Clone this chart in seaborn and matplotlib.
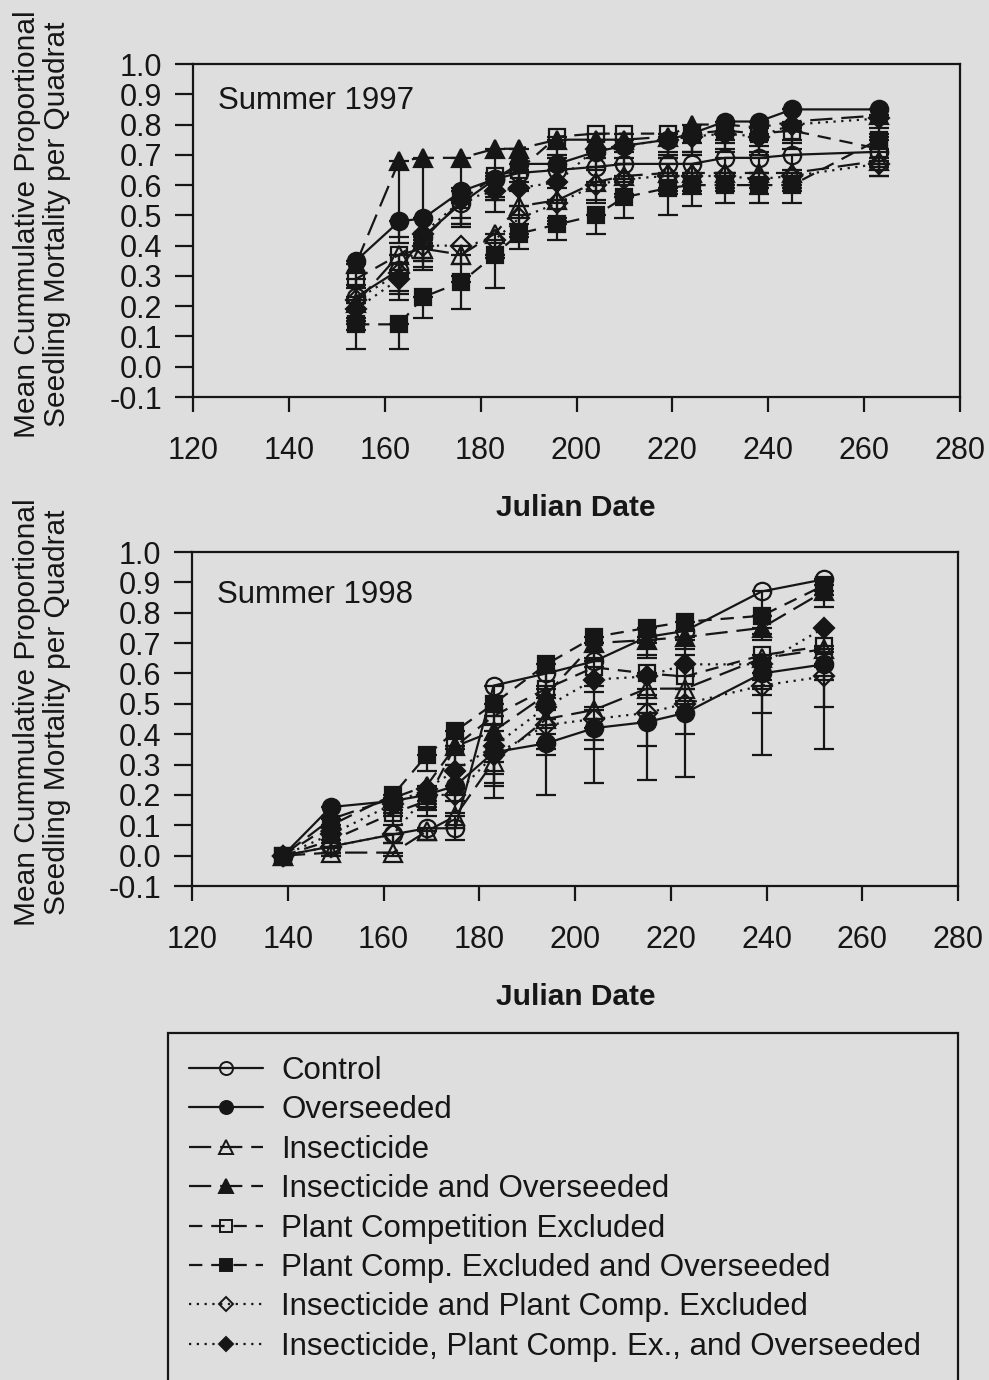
import numpy as np
import pandas as pd
import matplotlib
matplotlib.use("Agg")
import matplotlib.pyplot as plt
from matplotlib.lines import Line2D
from matplotlib.patches import Rectangle
import seaborn as sns

# ---------------- data ----------------
series_names = [
    "Control",
    "Overseeded",
    "Insecticide",
    "Insecticide and Overseeded",
    "Plant Competition Excluded",
    "Plant Comp. Excluded and Overseeded",
    "Insecticide and Plant Comp. Excluded",
    "Insecticide, Plant Comp. Ex., and Overseeded",
]

dates_1997 = [154, 163, 168, 176, 183, 188, 196, 204, 210, 219, 224, 231, 238, 245, 263]
control_1997 = [0.23, 0.32, 0.43, 0.54, 0.62, 0.64, 0.65, 0.66, 0.67, 0.67, 0.67, 0.69, 0.69, 0.70, 0.71]
overseeded_1997 = [0.35, 0.48, 0.49, 0.58, 0.62, 0.67, 0.67, 0.71, 0.73, 0.75, 0.77, 0.81, 0.81, 0.85, 0.85]
insecticide_1997 = [0.21, 0.37, 0.39, 0.37, 0.44, 0.53, 0.55, 0.61, 0.63, 0.64, 0.64, 0.64, 0.64, 0.64, 0.68]
ins_over_1997 = [0.34, 0.68, 0.69, 0.69, 0.72, 0.72, 0.75, 0.75, 0.75, 0.76, 0.80, 0.80, 0.79, 0.81, 0.83]
pce_1997 = [0.29, 0.37, 0.42, 0.55, 0.63, 0.65, 0.76, 0.77, 0.77, 0.77, 0.77, 0.78, 0.77, 0.78, 0.72]
pce_over_1997 = [0.14, 0.14, 0.23, 0.28, 0.37, 0.44, 0.47, 0.50, 0.56, 0.59, 0.60, 0.60, 0.60, 0.60, 0.75]
ins_pce_1997 = [0.22, 0.31, 0.40, 0.40, 0.42, 0.49, 0.54, 0.60, 0.62, 0.63, 0.63, 0.63, 0.62, 0.63, 0.67]
ins_pce_over_1997 = [0.19, 0.29, 0.44, 0.55, 0.58, 0.59, 0.61, 0.72, 0.73, 0.75, 0.76, 0.77, 0.76, 0.80, 0.82]

se_control_1997 = [0.07, 0.07, 0.08, 0.08, 0.07, 0.06, 0.06, 0.06, 0.06, 0.06, 0.06, 0.05, 0.05, 0.05, 0.05]
se_overseeded_1997 = [0.08, 0.07, 0.08, 0.09, 0.07, 0.06, 0.06, 0.06, 0.06, 0.06, 0.06, 0.06, 0.06, 0.06, 0.06]
se_insecticide_1997 = [0.07, 0.07, 0.07, 0.07, 0.07, 0.06, 0.06, 0.06, 0.06, 0.06, 0.06, 0.05, 0.05, 0.05, 0.05]
se_ins_over_1997 = [0.08, 0.25, 0.25, 0.10, 0.08, 0.07, 0.06, 0.06, 0.06, 0.06, 0.06, 0.06, 0.06, 0.06, 0.06]
se_pce_1997 = [0.08, 0.07, 0.07, 0.08, 0.07, 0.06, 0.06, 0.06, 0.06, 0.06, 0.06, 0.06, 0.06, 0.06, 0.06]
se_pce_over_1997 = [0.08, 0.08, 0.07, 0.09, 0.11, 0.05, 0.05, 0.06, 0.07, 0.09, 0.07, 0.06, 0.06, 0.06, 0.06]
se_ins_pce_1997 = [0.07, 0.07, 0.07, 0.06, 0.06, 0.06, 0.06, 0.06, 0.06, 0.06, 0.06, 0.05, 0.05, 0.05, 0.04]
se_ins_pce_over_1997 = [0.07, 0.07, 0.08, 0.08, 0.07, 0.06, 0.06, 0.06, 0.06, 0.06, 0.06, 0.06, 0.06, 0.06, 0.06]

dates_1998 = [139, 149, 162, 169, 175, 183, 194, 204, 215, 223, 239, 252]
control_1998 = [0.0, 0.03, 0.07, 0.09, 0.09, 0.56, 0.60, 0.64, 0.72, 0.74, 0.87, 0.91]
overseeded_1998 = [0.0, 0.16, 0.18, 0.20, 0.23, 0.34, 0.37, 0.42, 0.44, 0.47, 0.60, 0.63]
insecticide_1998 = [0.0, 0.01, 0.01, 0.08, 0.13, 0.31, 0.45, 0.48, 0.55, 0.55, 0.65, 0.68]
ins_over_1998 = [0.0, 0.12, 0.19, 0.23, 0.36, 0.41, 0.53, 0.70, 0.71, 0.72, 0.75, 0.87]
pce_1998 = [0.0, 0.05, 0.14, 0.18, 0.36, 0.46, 0.55, 0.62, 0.60, 0.59, 0.66, 0.69]
pce_over_1998 = [0.0, 0.10, 0.20, 0.33, 0.41, 0.50, 0.63, 0.72, 0.75, 0.77, 0.79, 0.89]
ins_pce_1998 = [0.0, 0.03, 0.07, 0.20, 0.20, 0.33, 0.43, 0.45, 0.47, 0.50, 0.56, 0.59]
ins_pce_over_1998 = [0.0, 0.07, 0.17, 0.22, 0.28, 0.36, 0.49, 0.58, 0.59, 0.63, 0.63, 0.75]

se_control_1998 = [0.0, 0.02, 0.03, 0.04, 0.04, 0.10, 0.08, 0.08, 0.06, 0.06, 0.08, 0.05]
se_overseeded_1998 = [0.0, 0.03, 0.04, 0.04, 0.05, 0.10, 0.17, 0.18, 0.19, 0.21, 0.13, 0.14]
se_insecticide_1998 = [0.0, 0.01, 0.01, 0.03, 0.04, 0.12, 0.10, 0.10, 0.08, 0.08, 0.10, 0.10]
se_ins_over_1998 = [0.0, 0.03, 0.04, 0.05, 0.06, 0.08, 0.08, 0.06, 0.06, 0.06, 0.04, 0.05]
se_pce_1998 = [0.0, 0.02, 0.04, 0.05, 0.06, 0.08, 0.07, 0.08, 0.07, 0.08, 0.08, 0.07]
se_pce_over_1998 = [0.0, 0.03, 0.04, 0.05, 0.06, 0.07, 0.07, 0.07, 0.05, 0.06, 0.06, 0.03]
se_ins_pce_1998 = [0.0, 0.02, 0.03, 0.05, 0.06, 0.10, 0.10, 0.10, 0.11, 0.10, 0.23, 0.24]
se_ins_pce_over_1998 = [0.0, 0.03, 0.04, 0.05, 0.06, 0.09, 0.09, 0.09, 0.09, 0.08, 0.10, 0.08]

y_ticks = [-0.1, 0.0, 0.1, 0.2, 0.3, 0.4, 0.5, 0.6, 0.7, 0.8, 0.9, 1.0]
x_ticks = [120, 140, 160, 180, 200, 220, 240, 260, 280]
panel_titles = ["Summer 1997", "Summer 1998"]
x_label = "Julian Date"
y_label = "Mean Cummulative Proportional\nSeedling Mortality per Quadrat"

# ---------------- styles ----------------
INK = "#161616"
BG = "#dedede"
LW = 1.6
styles = [
    dict(marker="o", filled=False, ls="-"),
    dict(marker="o", filled=True, ls="-"),
    dict(marker="^", filled=False, ls=(0, (10, 4))),
    dict(marker="^", filled=True, ls=(0, (10, 4))),
    dict(marker="s", filled=False, ls=(0, (6, 4))),
    dict(marker="s", filled=True, ls=(0, (6, 4))),
    dict(marker="D", filled=False, ls=(0, (1, 2.5))),
    dict(marker="D", filled=True, ls=(0, (1, 2.5))),
]
msize = {"o": 12.5, "^": 12.5, "s": 11, "D": 10}

sns.set_theme(style="white")
plt.rcParams["font.family"] = ["Liberation Sans", "DejaVu Sans"]
plt.rcParams["axes.unicode_minus"] = False
plt.rcParams["text.color"] = INK

W, H = 989, 1380
fig = plt.figure(figsize=(W / 100, H / 100), dpi=100, facecolor=BG)


def px_axes(l, t, r, b):
    return fig.add_axes([l / W, 1 - b / H, (r - l) / W, (b - t) / H])


ax1 = px_axes(193, 64, 960, 397)
ax2 = px_axes(192, 552, 958, 886)

panels = [
    (ax1, dates_1997,
     [control_1997, overseeded_1997, insecticide_1997, ins_over_1997,
      pce_1997, pce_over_1997, ins_pce_1997, ins_pce_over_1997],
     [se_control_1997, se_overseeded_1997, se_insecticide_1997, se_ins_over_1997,
      se_pce_1997, se_pce_over_1997, se_ins_pce_1997, se_ins_pce_over_1997]),
    (ax2, dates_1998,
     [control_1998, overseeded_1998, insecticide_1998, ins_over_1998,
      pce_1998, pce_over_1998, ins_pce_1998, ins_pce_over_1998],
     [se_control_1998, se_overseeded_1998, se_insecticide_1998, se_ins_over_1998,
      se_pce_1998, se_pce_over_1998, se_ins_pce_1998, se_ins_pce_over_1998]),
]

for pi, (ax, dates, vals, ses) in enumerate(panels):
    ax.set_facecolor(BG)
    for name, v, se, st in zip(series_names, vals, ses, styles):
        df = pd.DataFrame({"date": dates, "value": v, "se": se})
        ax.errorbar(df["date"], df["value"], yerr=[df["se"], np.zeros(len(df))],
                    fmt="none", ecolor=INK, elinewidth=LW, capsize=7, capthick=LW,
                    zorder=2)
        sns.lineplot(data=df, x="date", y="value", ax=ax, errorbar=None,
                     color=INK, linewidth=LW, linestyle=st["ls"],
                     marker=st["marker"], markersize=msize[st["marker"]],
                     markerfacecolor=INK if st["filled"] else "none",
                     markeredgecolor=INK, markeredgewidth=LW, legend=False,
                     zorder=3)
    ax.set_xlim(120, 280)
    ax.set_ylim(-0.1, 1.0)
    ax.set_xticks(x_ticks)
    ax.set_yticks(y_ticks)
    ax.set_yticklabels([f"{t:.1f}" for t in y_ticks])
    ax.set_xlabel("")
    ax.set_ylabel("")
    ax.tick_params(axis="y", direction="out", length=13, width=LW, colors=INK,
                   labelsize=22, pad=9, left=True)
    ax.tick_params(axis="x", direction="out", length=11, width=LW, colors=INK,
                   labelsize=22, pad=17, bottom=True)
    for sp in ax.spines.values():
        sp.set_visible(True)
        sp.set_color(INK)
        sp.set_linewidth(LW)
    ax.text(0.033, 0.89 if pi == 0 else 0.87, panel_titles[pi], transform=ax.transAxes,
            fontsize=22.5, color=INK, ha="left", va="center")

# axis labels
fig.text(576 / W, 1 - 508 / H, x_label, ha="center", va="center", fontsize=21.5,
         fontweight="bold", color=INK)
fig.text(576 / W, 1 - 997 / H, x_label, ha="center", va="center", fontsize=21.5,
         fontweight="bold", color=INK)
fig.text(42 / W, 1 - 224 / H, y_label, ha="center", va="center", rotation=90,
         fontsize=21.5, color=INK, linespacing=1.1)
fig.text(42 / W, 1 - 712 / H, y_label, ha="center", va="center", rotation=90,
         fontsize=21.5, color=INK, linespacing=1.1)

# legend
handles = []
for name, st in zip(series_names, styles):
    handles.append(Line2D([], [], color=INK, linewidth=LW, linestyle=st["ls"],
                          marker=st["marker"], markersize=msize[st["marker"]] * 0.75,
                          markerfacecolor=INK if st["filled"] else "none",
                          markeredgecolor=INK, markeredgewidth=1.4, label=name))
fig.legend(handles=handles, loc="upper left", bbox_to_anchor=(189 / W, 1 - 1056 / H),
           frameon=False, fontsize=22.5, handlelength=2.37, handletextpad=0.58,
           labelspacing=0.3, borderpad=0, borderaxespad=0)
fig.add_artist(Rectangle((168 / W, -0.02), (958 - 168) / W, (1380 - 1033) / H + 0.02,
                         transform=fig.transFigure, fill=False, edgecolor=INK,
                         linewidth=LW, clip_on=False))

fig.savefig("out.png", dpi=100, facecolor=BG)
